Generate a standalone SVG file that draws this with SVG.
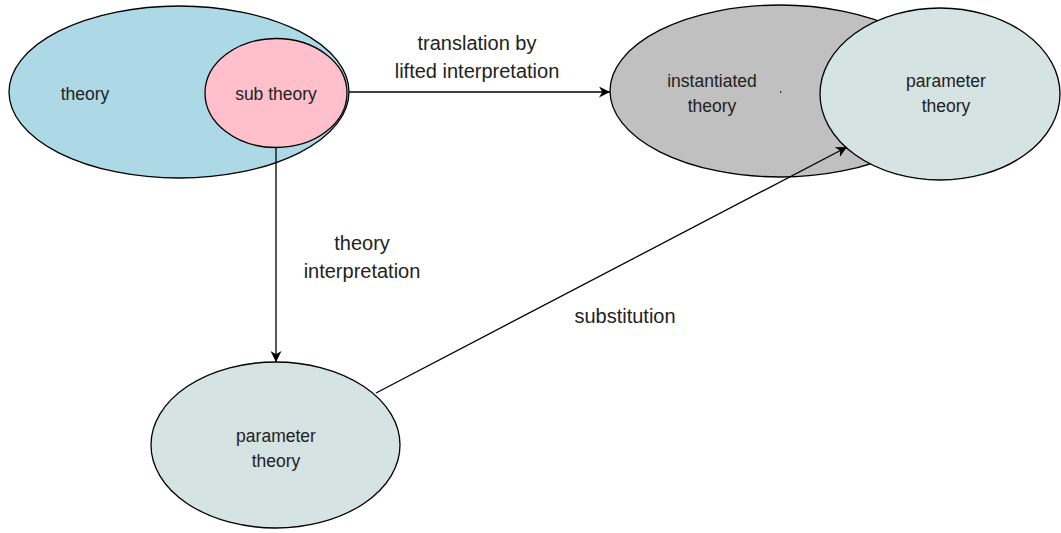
<svg xmlns="http://www.w3.org/2000/svg" width="1061" height="533" viewBox="0 0 1061 533">
  <style>
    .node { stroke: #000; stroke-width: 1.3; }
    .lbl { font-family: "Liberation Sans", Arial, sans-serif; font-size: 17.5px; fill: #222; text-anchor: middle; }
    .edge-lbl { font-size: 20px; }
    .edge { stroke: #000; stroke-width: 1.3; fill: none; marker-end: url(#arrow); }
  </style>
  <defs>
    <marker id="arrow" viewBox="0 0 10 10" refX="10" refY="5" markerWidth="11" markerHeight="11" markerUnits="userSpaceOnUse" orient="auto">
      <path d="M0,0 L10,5 L0,10 L3,5 Z" fill="#000"/>
    </marker>
  </defs>
  <rect width="1061" height="533" fill="#fff"/>

  <g id="theory">
    <ellipse class="node" cx="179" cy="92" rx="170" ry="86" fill="#add8e6"/>
    <text class="lbl" x="85" y="100">theory</text>
  </g>
  <g id="sub-theory">
    <ellipse class="node" cx="276" cy="93" rx="71" ry="54.5" fill="#ffc0cb"/>
    <text class="lbl" x="276" y="100">sub theory</text>
  </g>
  <g id="instantiated-theory">
    <ellipse class="node" cx="780" cy="91" rx="170" ry="86" fill="#c0c0c0"/>
    <text class="lbl" x="712" y="87">instantiated</text>
    <text class="lbl" x="712" y="112">theory</text>
    <rect x="780" y="91" width="1.2" height="2" fill="#333"/>
  </g>
  <g id="parameter-theory-top">
    <ellipse class="node" cx="940" cy="94" rx="120" ry="86" fill="#d5e3e3"/>
    <text class="lbl" x="946" y="87">parameter</text>
    <text class="lbl" x="946" y="112">theory</text>
  </g>
  <g id="parameter-theory-bottom">
    <ellipse class="node" cx="275.5" cy="445" rx="124.5" ry="83" fill="#d5e3e3"/>
    <text class="lbl" x="276" y="442">parameter</text>
    <text class="lbl" x="276" y="467">theory</text>
  </g>

  <g id="connectors">
    <line class="edge" x1="349" y1="92" x2="610" y2="92"/>
    <line class="edge" x1="276" y1="147.5" x2="276" y2="362"/>
    <line class="edge" x1="376" y1="393" x2="847" y2="147"/>
    <text class="lbl edge-lbl" x="477" y="50">translation by</text>
    <text class="lbl edge-lbl" x="477" y="78">lifted interpretation</text>
    <text class="lbl edge-lbl" x="362" y="250">theory</text>
    <text class="lbl edge-lbl" x="362" y="278">interpretation</text>
    <text class="lbl edge-lbl" x="625" y="323">substitution</text>
  </g>
</svg>
